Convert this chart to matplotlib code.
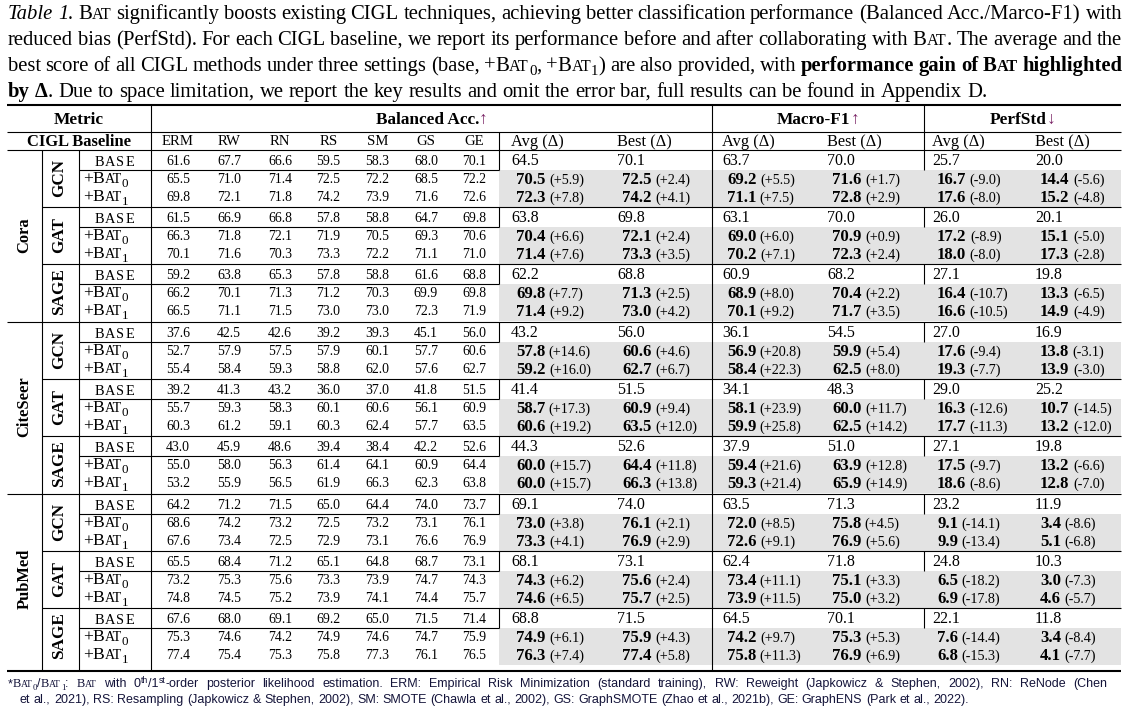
import matplotlib
matplotlib.use('Agg')
import matplotlib.pyplot as plt
from matplotlib.patches import Rectangle

# ------------------------------------------------------------------ data
methods = ['ERM', 'RW', 'RN', 'RS', 'SM', 'GS', 'GE']
datasets = ['Cora', 'CiteSeer', 'PubMed']
backbones = ['GCN', 'GAT', 'SAGE']
metric_groups = ['Balanced Acc.', 'Macro-F1', 'PerfStd']
metric_arrows = ['↑', '↑', '↓']
summary_heads = ['Avg (Δ)', 'Best (Δ)']

# per-method Balanced Acc. rows: (GCN base, +BAT0, +BAT1, GAT ..., SAGE ...)
cora_bacc = [
    [61.6, 67.7, 66.6, 59.5, 58.3, 68.0, 70.1],
    [65.5, 71.0, 71.4, 72.5, 72.2, 68.5, 72.2],
    [69.8, 72.1, 71.8, 74.2, 73.9, 71.6, 72.6],
    [61.5, 66.9, 66.8, 57.8, 58.8, 64.7, 69.8],
    [66.3, 71.8, 72.1, 71.9, 70.5, 69.3, 70.6],
    [70.1, 71.6, 70.3, 73.3, 72.2, 71.1, 71.0],
    [59.2, 63.8, 65.3, 57.8, 58.8, 61.6, 68.8],
    [66.2, 70.1, 71.3, 71.2, 70.3, 69.9, 69.8],
    [66.5, 71.1, 71.5, 73.0, 73.0, 72.3, 71.9],
]
citeseer_bacc = [
    [37.6, 42.5, 42.6, 39.2, 39.3, 45.1, 56.0],
    [52.7, 57.9, 57.5, 57.9, 60.1, 57.7, 60.6],
    [55.4, 58.4, 59.3, 58.8, 62.0, 57.6, 62.7],
    [39.2, 41.3, 43.2, 36.0, 37.0, 41.8, 51.5],
    [55.7, 59.3, 58.3, 60.1, 60.6, 56.1, 60.9],
    [60.3, 61.2, 59.1, 60.3, 62.4, 57.7, 63.5],
    [43.0, 45.9, 48.6, 39.4, 38.4, 42.2, 52.6],
    [55.0, 58.0, 56.3, 61.4, 64.1, 60.9, 64.4],
    [53.2, 55.9, 56.5, 61.9, 66.3, 62.3, 63.8],
]
pubmed_bacc = [
    [64.2, 71.2, 71.5, 65.0, 64.4, 74.0, 73.7],
    [68.6, 74.2, 73.2, 72.5, 73.2, 73.1, 76.1],
    [67.6, 73.4, 72.5, 72.9, 73.1, 76.6, 76.9],
    [65.5, 68.4, 71.2, 65.1, 64.8, 68.7, 73.1],
    [73.2, 75.3, 75.6, 73.3, 73.9, 74.7, 74.3],
    [74.8, 74.5, 75.2, 73.9, 74.1, 74.4, 75.7],
    [67.6, 68.0, 69.1, 69.2, 65.0, 71.5, 71.4],
    [75.3, 74.6, 74.2, 74.9, 74.6, 74.7, 75.9],
    [77.4, 75.4, 75.3, 75.8, 77.3, 76.1, 76.5],
]

# summary columns: BAcc avg, BAcc best, F1 avg, F1 best, PerfStd avg, PerfStd best
cora_summary = [
    [64.5, 70.1, 63.7, 70.0, 25.7, 20.0],
    [70.5, 72.5, 69.2, 71.6, 16.7, 14.4],
    [72.3, 74.2, 71.1, 72.8, 17.6, 15.2],
    [63.8, 69.8, 63.1, 70.0, 26.0, 20.1],
    [70.4, 72.1, 69.0, 70.9, 17.2, 15.1],
    [71.4, 73.3, 70.2, 72.3, 18.0, 17.3],
    [62.2, 68.8, 60.9, 68.2, 27.1, 19.8],
    [69.8, 71.3, 68.9, 70.4, 16.4, 13.3],
    [71.4, 73.0, 70.1, 71.7, 16.6, 14.9],
]
cora_delta = [
    [5.9, 2.4, 5.5, 1.7, -9.0, -5.6],
    [7.8, 4.1, 7.5, 2.9, -8.0, -4.8],
    [6.6, 2.4, 6.0, 0.9, -8.9, -5.0],
    [7.6, 3.5, 7.1, 2.4, -8.0, -2.8],
    [7.7, 2.5, 8.0, 2.2, -10.7, -6.5],
    [9.2, 4.2, 9.2, 3.5, -10.5, -4.9],
]
citeseer_summary = [
    [43.2, 56.0, 36.1, 54.5, 27.0, 16.9],
    [57.8, 60.6, 56.9, 59.9, 17.6, 13.8],
    [59.2, 62.7, 58.4, 62.5, 19.3, 13.9],
    [41.4, 51.5, 34.1, 48.3, 29.0, 25.2],
    [58.7, 60.9, 58.1, 60.0, 16.3, 10.7],
    [60.6, 63.5, 59.9, 62.5, 17.7, 13.2],
    [44.3, 52.6, 37.9, 51.0, 27.1, 19.8],
    [60.0, 64.4, 59.4, 63.9, 17.5, 13.2],
    [60.0, 66.3, 59.3, 65.9, 18.6, 12.8],
]
citeseer_delta = [
    [14.6, 4.6, 20.8, 5.4, -9.4, -3.1],
    [16.0, 6.7, 22.3, 8.0, -7.7, -3.0],
    [17.3, 9.4, 23.9, 11.7, -12.6, -14.5],
    [19.2, 12.0, 25.8, 14.2, -11.3, -12.0],
    [15.7, 11.8, 21.6, 12.8, -9.7, -6.6],
    [15.7, 13.8, 21.4, 14.9, -8.6, -7.0],
]
pubmed_summary = [
    [69.1, 74.0, 63.5, 71.3, 23.2, 11.9],
    [73.0, 76.1, 72.0, 75.8, 9.1, 3.4],
    [73.3, 76.9, 72.6, 76.9, 9.9, 5.1],
    [68.1, 73.1, 62.4, 71.8, 24.8, 10.3],
    [74.3, 75.6, 73.4, 75.1, 6.5, 3.0],
    [74.6, 75.7, 73.9, 75.0, 6.9, 4.6],
    [68.8, 71.5, 64.5, 70.1, 22.1, 11.8],
    [74.9, 75.9, 74.2, 75.3, 7.6, 3.4],
    [76.3, 77.4, 75.8, 76.9, 6.8, 4.1],
]
pubmed_delta = [
    [3.8, 2.1, 8.5, 4.5, -14.1, -8.6],
    [4.1, 2.9, 9.1, 5.6, -13.4, -6.8],
    [6.2, 2.4, 11.1, 3.3, -18.2, -7.3],
    [6.5, 2.5, 11.5, 3.2, -17.8, -5.7],
    [6.1, 4.3, 9.7, 5.3, -14.4, -8.4],
    [7.4, 5.8, 11.3, 6.9, -15.3, -7.7],
]
per_method = [cora_bacc, citeseer_bacc, pubmed_bacc]
summaries = [cora_summary, citeseer_summary, pubmed_summary]
deltas = [cora_delta, citeseer_delta, pubmed_delta]

# ------------------------------------------------------------------ canvas
W, H = 1133, 708
fig = plt.figure(figsize=(W / 100, H / 100), dpi=100)
ax = fig.add_axes([0, 0, 1, 1])
ax.set_xlim(0, W)
ax.set_ylim(H, 0)
ax.axis('off')
renderer = fig.canvas.get_renderer()

SERIF = ['Liberation Serif', 'DejaVu Serif']
SANS = ['Liberation Sans', 'DejaVu Sans']
ARROW_C = '#7a2466'
SHADE = '#e3e3e3'

_cache = {}


def tw(text, size, weight='normal', style='normal', family=SERIF):
    key = (text, round(size, 3), weight, style, tuple(family))
    if key not in _cache:
        t = ax.text(0, 0, text, fontsize=size, fontweight=weight,
                    fontstyle=style, fontfamily=family)
        _cache[key] = t.get_window_extent(renderer).width
        t.remove()
    return _cache[key]


def P(text, size, weight='normal', style='normal', dy=0.0, color='black',
      family=None, pad=0.0):
    return dict(text=text, size=size, weight=weight, style=style, dy=dy,
                color=color, family=family or SERIF, pad=pad)


def pw(p):
    return tw(p['text'], p['size'], p['weight'], p['style'], p['family']) + p['pad']


def width_parts(parts):
    return sum(pw(p) for p in parts)


def draw_parts(x, y, parts, ha='left', zorder=6):
    total = width_parts(parts)
    if ha == 'center':
        x -= total / 2
    elif ha == 'right':
        x -= total
    for p in parts:
        ax.text(x, y + p['dy'], p['text'], fontsize=p['size'],
                fontweight=p['weight'], fontstyle=p['style'],
                fontfamily=p['family'], color=p['color'],
                ha='left', va='baseline', zorder=zorder)
        x += pw(p)
    return x


def sc(word, size, weight='normal', ratio=0.78, color='black', family=None):
    """small caps"""
    parts, buf, small = [], '', None
    for ch in word:
        s = ch.islower()
        if small is None or s == small:
            buf += ch
        else:
            parts.append(P(buf.upper() if small else buf,
                           size * ratio if small else size, weight,
                           color=color, family=family))
            buf = ch
        small = s
    if buf:
        parts.append(P(buf.upper() if small else buf,
                       size * ratio if small else size, weight,
                       color=color, family=family))
    return parts


def bat(size, sub=None, weight='normal', color='black', ratio=0.78, subr=0.72):
    parts = sc('Bat', size, weight, ratio=ratio, color=color)
    if sub is not None:
        parts.append(P(sub, size * subr, weight, dy=size * 0.3, color=color))
    return parts


def words_of(parts):
    words, cur = [], []
    for p in parts:
        pieces = p['text'].split(' ')
        for i, piece in enumerate(pieces):
            if i > 0 and cur:
                words.append(cur)
                cur = []
            if piece:
                q = dict(p)
                q['text'] = piece
                cur.append(q)
    if cur:
        words.append(cur)
    return words


def natural_width(parts, size, family=SERIF):
    words = words_of(parts)
    sp = tw('x x', size, family=family) - tw('xx', size, family=family)
    return sum(width_parts(w) for w in words) + sp * (len(words) - 1)


def draw_line(x0, x1, y, parts, size, justify=True, family=SERIF):
    words = words_of(parts)
    ws = [width_parts(w) for w in words]
    sp = tw('x x', size, family=family) - tw('xx', size, family=family)
    gap = (x1 - x0 - sum(ws)) / (len(words) - 1) if justify else sp
    x = x0
    for w, wd in zip(words, ws):
        draw_parts(x, y, w)
        x += wd + gap


# ------------------------------------------------------------------ caption
def caption_lines(s):
    N = lambda t: P(t, s)
    B = lambda t: P(t, s, 'bold')
    return [
        [P('Table 1.', s, style='italic'), N(' ')] + bat(s) +
        [N(' significantly boosts existing CIGL techniques, achieving better '
           'classification performance (Balanced Acc./Marco-F1) with')],
        [N('reduced bias (PerfStd). For each CIGL baseline, we report its performance '
           'before and after collaborating with ')] + bat(s) +
        [N('. The average and the')],
        [N('best score of all CIGL methods under three settings (base, +')] + bat(s, '0') +
        [N(', +')] + bat(s, '1') + [N(') are also provided, with '),
                                    B('performance gain of ')] + bat(s, weight='bold') +
        [B(' highlighted')],
        [B('by Δ'), N('. Due to space limitation, we report the key results and omit '
                      'the error bar, full results can be found in Appendix D.')],
    ]


cap_size = 10 * (990 - 8) / natural_width(caption_lines(10)[3], 10)
cl = caption_lines(cap_size)
cap_base = [19, 45, 71, 97]
for i, parts in enumerate(cl):
    draw_line(8, 1122, cap_base[i], parts, cap_size, justify=(i < 3))

# ------------------------------------------------------------------ table geometry
FS_NUM = 9.9      # per-method values
FS_MH = 10.6      # method headers
FS_H = 12.4       # bold header
FS_H2 = 11.9      # "CIGL Baseline"
FS_SH = 11.8      # Avg/Best headers
FS_SUM = 11.5     # summary base values
FS_SB = 12.1      # summary bold values
FS_D = 10.2       # deltas
FS_LAB = 12.6     # +BAT row labels
FS_BASE = 10.4    # BASE label
FS_DS = 11.9      # dataset labels
FS_BB = 12.3      # backbone labels

L, R = 7, 1121
x_ds, x_bb, x_lab, x_avg, x_mid, x_std = 42, 79, 151, 499, 712, 924
y_top, y_h1, y_h2, y_bot = 105, 131.5, 149.5, 670.5
col_x = [178, 229, 280, 328.5, 377.5, 426, 474]
sum_x = [511, 617, 722, 827, 932, 1035]
SH_OFF = 5
sub_off = [0, 18.5, 36.5]


def bl(size):
    return 0.47 * size   # baseline offset below a row centre


def row_y(d, b, s):
    return 160 + 172 * d + 57 * b + sub_off[s]


thin, thick = 0.8, 1.5
ax.hlines(y_top, L, R, color='black', lw=thick, zorder=7)
ax.hlines(y_bot, L, R, color='black', lw=thick, zorder=7)
ax.hlines([y_h1, y_h2], L, R, color='black', lw=thin, zorder=7)
for d in range(3):
    for b in range(3):
        g0 = row_y(d, b, 0)
        if b > 0:
            ax.hlines(g0 - 10.5, x_ds, R, color='black', lw=thin, zorder=7)
        elif d > 0:
            ax.hlines(g0 - 10.5, L, R, color='black', lw=thin, zorder=7)
        ax.hlines(g0 + 9.5, x_bb, x_avg, color='black', lw=thin, zorder=7)
        ax.add_patch(Rectangle((x_avg, g0 + 9.5), R - x_avg, 37.0,
                               facecolor=SHADE, edgecolor='none', zorder=2))
        ax.vlines([x_avg, x_std], g0 - 10.5, g0 + 9.5, color='black', lw=thin, zorder=7)
ax.vlines([x_ds, x_bb], y_h2, y_bot, color='black', lw=thin, zorder=7)
ax.vlines([x_lab, x_mid], y_top, y_bot, color='black', lw=thin, zorder=7)
ax.vlines(x_avg, y_h1, y_h2, color='black', lw=thin, zorder=7)
ax.vlines(x_std, y_top, y_h2, color='black', lw=thin, zorder=7)

# header
hc1, hc2 = 118, 140.5
draw_parts((L + x_lab) / 2, hc1 + bl(FS_H), [P('Metric', FS_H, 'bold')], ha='center')
grp_centres = [(x_lab + x_mid) / 2, (x_mid + x_std) / 2, (x_std + R) / 2]
for name, arr, cx in zip(metric_groups, metric_arrows, grp_centres):
    draw_parts(cx, hc1 + bl(FS_H),
               [P(name, FS_H, 'bold'), P(arr, FS_H, color=ARROW_C)], ha='center')
draw_parts((L + x_lab) / 2, hc2 + bl(FS_H2), [P('CIGL Baseline', FS_H2, 'bold')],
           ha='center')
for m, cx in zip(methods, col_x):
    draw_parts(cx, hc2 + bl(FS_MH), [P(m, FS_MH)], ha='center')
for k, sx in enumerate(sum_x):
    draw_parts(sx, hc2 + bl(FS_SH), [P(summary_heads[k % 2], FS_SH)])

# body
base_label = [P(ch, FS_BASE, pad=1.0) for ch in 'BASE']
base_label[-1]['pad'] = 0
for d, ds in enumerate(datasets):
    yc = (row_y(d, 0, 0) - 10.5 + row_y(d, 2, 2) + 9.5) / 2
    ax.text((L + x_ds) / 2, yc, ds, rotation=90, ha='center', va='center',
            fontsize=FS_DS, fontweight='bold', fontfamily=SERIF, zorder=6)
    for b, bb in enumerate(backbones):
        yb = (row_y(d, b, 0) - 10.5 + row_y(d, b, 2) + 9.5) / 2
        ax.text((x_ds + x_bb) / 2 - 1, yb, bb, rotation=90, ha='center',
                va='center', fontsize=FS_BB, fontweight='bold',
                fontfamily=SERIF, zorder=6)
        for s in range(3):
            yc_r = row_y(d, b, s)
            r = b * 3 + s
            if s == 0:
                draw_parts(114, yc_r + bl(FS_BASE * 1.15), base_label, ha='center')
            else:
                draw_parts(83, yc_r + bl(FS_LAB) - 1,
                           [P('+', FS_LAB)] + bat(FS_LAB, str(s - 1), ratio=0.8,
                                                  subr=0.75))
            for v, cx in zip(per_method[d][r], col_x):
                draw_parts(cx, yc_r + bl(FS_NUM), [P(f'{v:.1f}', FS_NUM)], ha='center')
            for k, sx in enumerate(sum_x):
                v = summaries[d][r][k]
                if s == 0:
                    draw_parts(sx, yc_r + bl(FS_SUM), [P(f'{v:.1f}', FS_SUM)])
                else:
                    dv = deltas[d][b * 2 + s - 1][k]
                    draw_parts(sx + SH_OFF, yc_r + bl(FS_SB),
                               [P(f'{v:.1f}', FS_SB, 'bold', pad=3.5),
                                P(f'({dv:+.1f})', FS_D)])

# ------------------------------------------------------------------ footnote
FN_C = '#14143a'


def foot_lines(s):
    N = lambda t: P(t, s, family=SANS, color=FN_C)
    sup = lambda t: P(t, s * 0.7, family=SANS, color=FN_C, dy=-s * 0.45)
    bt = lambda sub=None: bat(s, sub, color=FN_C)
    return [
        [N('*')] + bt('0') + [N('/')] + bt('1') + [N(': ')] + bt() +
        [N(' with 0'), sup('th'), N('/1'), sup('st'),
         N('-order posterior likelihood estimation. ERM: Empirical Risk Minimization '
           '(standard training), RW: Reweight (Japkowicz & Stephen, 2002), RN: ReNode (Chen')],
        [N('et al., 2021), RS: Resampling (Japkowicz & Stephen, 2002), SM: SMOTE '
           '(Chawla et al., 2002), GS: GraphSMOTE (Zhao et al., 2021b), GE: GraphENS '
           '(Park et al., 2022).')],
    ]


fn_size = 8 * (975 - 20) / natural_width(foot_lines(8)[1], 8, SANS)
fl = foot_lines(fn_size)
draw_line(8, 1107, 687, fl[0], fn_size, justify=True, family=SANS)
draw_line(20, 975, 703, fl[1], fn_size, justify=False, family=SANS)

fig.savefig('out.png', dpi=100)
